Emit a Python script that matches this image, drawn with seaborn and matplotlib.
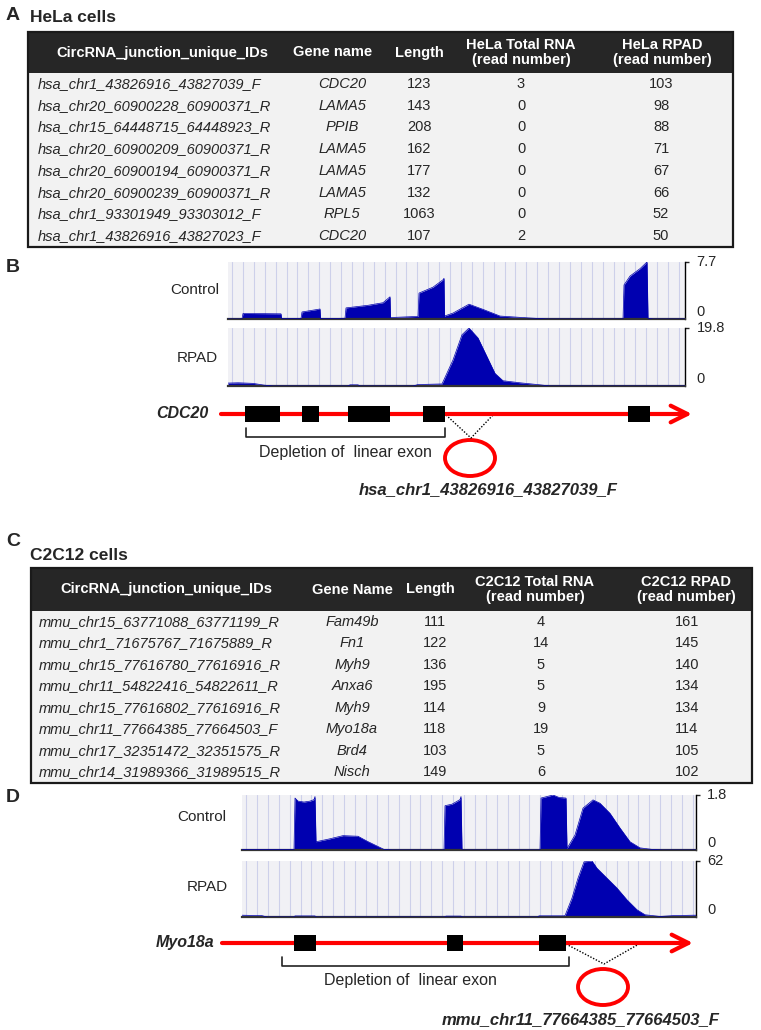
import numpy as np
import seaborn as sns
import matplotlib.pyplot as plt
from matplotlib.patches import Rectangle, Ellipse

sns.set_theme(style="white")
plt.rcParams['font.family'] = ['Liberation Sans', 'DejaVu Sans']

# ---------------- data ----------------
hela_ids = ["hsa_chr1_43826916_43827039_F", "hsa_chr20_60900228_60900371_R",
            "hsa_chr15_64448715_64448923_R", "hsa_chr20_60900209_60900371_R",
            "hsa_chr20_60900194_60900371_R", "hsa_chr20_60900239_60900371_R",
            "hsa_chr1_93301949_93303012_F", "hsa_chr1_43826916_43827023_F"]
hela_genes = ["CDC20", "LAMA5", "PPIB", "LAMA5", "LAMA5", "LAMA5", "RPL5", "CDC20"]
hela_length = [123, 143, 208, 162, 177, 132, 1063, 107]
hela_total = [3, 0, 0, 0, 0, 0, 0, 2]
hela_rpad = [103, 98, 88, 71, 67, 66, 52, 50]
hela_headers = ["CircRNA_junction_unique_IDs", "Gene name", "Length",
                "HeLa Total RNA\n(read number)", "HeLa RPAD\n(read number)"]

c2c12_ids = ["mmu_chr15_63771088_63771199_R", "mmu_chr1_71675767_71675889_R",
             "mmu_chr15_77616780_77616916_R", "mmu_chr11_54822416_54822611_R",
             "mmu_chr15_77616802_77616916_R", "mmu_chr11_77664385_77664503_F",
             "mmu_chr17_32351472_32351575_R", "mmu_chr14_31989366_31989515_R"]
c2c12_genes = ["Fam49b", "Fn1", "Myh9", "Anxa6", "Myh9", "Myo18a", "Brd4", "Nisch"]
c2c12_length = [111, 122, 136, 195, 114, 118, 103, 149]
c2c12_total = [4, 14, 5, 5, 9, 19, 5, 6]
c2c12_rpad = [161, 145, 140, 134, 134, 114, 105, 102]
c2c12_headers = ["CircRNA_junction_unique_IDs", "Gene Name", "Length",
                 "C2C12 Total RNA\n(read number)", "C2C12 RPAD\n(read number)"]

# coverage (position along window, signal)
cdc20_ctrl_pos = [0, 14, 15, 53, 53.5, 73, 74, 92, 92.5, 117, 118, 140, 155, 162, 162.5, 190, 191, 205,
                  215, 216, 216.5, 225, 241, 255, 272, 300, 320, 395, 396, 402, 412, 419, 420, 425, 457]
cdc20_ctrl_cov = [0, 0, 0.75, 0.7, 0.05, 0.05, 0.95, 1.35, 0.05, 0.1, 1.5, 1.85, 2.2, 3.0, 0.2, 0.35, 3.5, 4.3,
                  5.3, 5.5, 0.4, 0.8, 2.0, 1.3, 0.4, 0.15, 0, 0, 4.6, 5.8, 6.8, 7.7, 0.1, 0, 0]
cdc20_rpad_pos = [0, 10, 25, 36, 45, 120, 122, 130, 132, 185, 190, 214, 225, 234, 241, 250, 259, 267, 275,
                  292, 312, 322, 457]
cdc20_rpad_cov = [1.0, 1.1, 0.9, 0.3, 0, 0, 0.4, 0.4, 0, 0, 0.5, 0.7, 8.9, 17.5, 19.8, 16.4, 10.0, 4.3, 1.8,
                  1.1, 0.4, 0, 0]
cdc20_exons = [(17, 52), (74, 91), (120, 162), (195, 217), (400, 422)]

myo_ctrl_pos = [0, 52, 53, 56, 62, 68, 72, 73, 74, 87, 101, 116, 125, 135, 142, 150, 202, 203, 210, 218, 219,
                220, 298, 299, 305, 311, 317, 324, 325, 333, 341, 351, 358, 368, 378, 388, 398, 410, 420, 454]
myo_ctrl_cov = [0.02, 0.02, 1.7, 1.6, 1.57, 1.6, 1.65, 1.75, 0.27, 0.36, 0.47, 0.45, 0.29, 0.13, 0.02, 0,
                0, 1.45, 1.5, 1.65, 1.75, 0, 0, 1.7, 1.75, 1.8, 1.72, 1.7, 0.05, 0.49, 1.37, 1.64, 1.53,
                1.2, 0.72, 0.27, 0.07, 0.02, 0, 0]
myo_rpad_pos = [0, 20, 25, 52, 53, 73, 74, 203, 204, 219, 220, 296, 297, 322, 323, 330, 336, 342, 350, 355,
                365, 375, 385, 395, 403, 418, 431, 451, 454]
myo_rpad_cov = [2, 1.5, 0, 0, 1.2, 1.2, 0, 0, 1, 1, 0, 0, 1.3, 1.3, 1.5, 21, 43, 61, 62, 54, 43, 32, 19, 8,
                2.5, 0.6, 1.5, 2, 2]
myo_exons = [(52, 74), (205, 221), (297, 324)]

BLUE = '#0000b0'
W, H = 761, 1030
fig = plt.figure(figsize=(W / 100, H / 100), dpi=100)
bg = fig.add_axes([0, 0, 1, 1])
bg.set_xlim(0, W)
bg.set_ylim(H, 0)
bg.axis('off')


def px(x0, y0, x1, y1):
    return [x0 / W, 1 - y1 / H, (x1 - x0) / W, (y1 - y0) / H]


def draw_table(box, row_h, headers, hx, cols, cx, fs):
    left, right, top, head_bot = box
    bottom = head_bot + len(cols[0]) * row_h
    bg.add_patch(Rectangle((left, head_bot), right - left, bottom - head_bot, fc='#f2f2f2', ec='none'))
    bg.add_patch(Rectangle((left, top), right - left, head_bot - top, fc='#262626', ec='none'))
    bg.add_patch(Rectangle((left, top), right - left, bottom - top, fc='none', ec='#1a1a1a', lw=1.6))
    for h, x in zip(headers, hx):
        bg.text(x, (top + head_bot) / 2, h, color='white', ha='center', va='center',
                weight='bold', fontsize=fs, linespacing=1.1)
    for j, col in enumerate(cols):
        for i, v in enumerate(col):
            y = head_bot + (i + 0.5) * row_h
            bg.text(cx[j], y, str(v), ha='left' if j == 0 else 'center', va='center',
                    style='italic' if j < 2 else 'normal', fontsize=fs)


def track(rect, pos, cov, ymax, top_label, width):
    ax = fig.add_axes(px(*rect))
    ax.set_facecolor('#f1f1f5')
    for gx in np.arange(4, width, 10.9):
        ax.axvline(gx, color='#cdd0ea', lw=0.8, zorder=0)
    ax.fill_between(pos, cov, color=BLUE, lw=0, zorder=2)
    sns.lineplot(x=pos, y=cov, ax=ax, color=BLUE, lw=0.5, sort=False, estimator=None, zorder=3)
    ax.set_xlim(0, width)
    ax.set_ylim(0, ymax)
    ax.set_xticks([])
    ax.yaxis.tick_right()
    ax.set_yticks([ymax])
    ax.set_yticklabels([])
    ax.tick_params(axis='y', direction='out', length=3, width=1, right=True, left=False)
    ax.text(1.025, 1.0, top_label, transform=ax.transAxes, ha='left', va='center', fontsize=10.5)
    ax.text(1.025, 0.0, '0', transform=ax.transAxes, ha='left', va='bottom', fontsize=10.5)
    for s in ['top', 'left']:
        ax.spines[s].set_visible(False)
    ax.spines['bottom'].set_color('#333333')
    ax.spines['bottom'].set_linewidth(1.6)
    ax.spines['right'].set_color('black')
    ax.spines['right'].set_linewidth(1)
    ax.set_xlabel('')
    ax.set_ylabel('')
    return ax


def gene_model(rect, width, yline, line_x, exons, bracket, dots, circ):
    ax = fig.add_axes(px(*rect))
    ax.set_xlim(0, width)
    ax.set_ylim(rect[3], rect[1])
    ax.axis('off')
    ax.annotate('', xy=(line_x[1], yline), xytext=(line_x[0], yline), annotation_clip=False,
                arrowprops=dict(arrowstyle='->,head_length=1.0,head_width=0.5', color='#ff0000',
                                lw=3.0, shrinkA=0, shrinkB=0))
    for s, e in exons:
        ax.add_patch(Rectangle((s, yline - 8), e - s, 16, fc='black', ec='none', zorder=3))
    b0, b1, yt, yb = bracket
    ax.plot([b0, b0, b1, b1], [yt, yb, yb, yt], color='#222222', lw=1.2, clip_on=False)
    ax.plot(dots[0], dots[1], color='black', ls=(0, (1, 1.2)), lw=1, clip_on=False)
    ax.add_patch(Ellipse(circ, 50, 36, fill=False, ec='#ff0000', lw=2.8, clip_on=False))
    return ax


# ---------------- panel A ----------------
bg.text(6, 15, 'A', fontsize=14, weight='bold', va='center')
bg.text(30, 17, 'HeLa cells', fontsize=12.5, weight='bold', va='center')
draw_table((28, 733, 32, 73), 21.75, hela_headers, [162, 333, 419, 521, 662],
           [hela_ids, hela_genes, hela_length, hela_total, hela_rpad],
           [38, 342, 419, 521, 661], 10.5)

# ---------------- panel B ----------------
bg.text(6, 267, 'B', fontsize=14, weight='bold', va='center')
track((228, 262, 685, 319), cdc20_ctrl_pos, cdc20_ctrl_cov, 7.7, '7.7', 457)
track((228, 328, 685, 386), cdc20_rpad_pos, cdc20_rpad_cov, 19.8, '19.8', 457)
bg.text(219, 290, 'Control', fontsize=11, ha='right', va='center')
bg.text(218, 358, 'RPAD', fontsize=11, ha='right', va='center')
gene_model((228, 395, 685, 500), 457, 414, (-7, 464), cdc20_exons, (18, 217, 428, 437),
           ([218, 243, 265], [415, 438, 415]), (242, 458))
bg.text(208, 414, 'CDC20', fontsize=11.5, weight='bold', style='italic', ha='right', va='center')
bg.text(345, 452, 'Depletion of  linear exon', fontsize=11.5, ha='center', va='center')
bg.text(488, 490, 'hsa_chr1_43826916_43827039_F', fontsize=12, weight='bold', style='italic',
        ha='center', va='center')

# ---------------- panel C ----------------
bg.text(6, 541, 'C', fontsize=14, weight='bold', va='center')
bg.text(30, 555, 'C2C12 cells', fontsize=12.5, weight='bold', va='center')
draw_table((31, 752, 568, 611), 21.5, c2c12_headers, [166, 352, 430, 535, 686],
           [c2c12_ids, c2c12_genes, c2c12_length, c2c12_total, c2c12_rpad],
           [39, 352, 435, 541, 687], 10.5)

# ---------------- panel D ----------------
bg.text(6, 797, 'D', fontsize=14, weight='bold', va='center')
track((242, 795, 696, 850), myo_ctrl_pos, myo_ctrl_cov, 1.8, '1.8', 454)
track((242, 861, 696, 917), myo_rpad_pos, myo_rpad_cov, 62, '62', 454)
bg.text(226, 817, 'Control', fontsize=11, ha='right', va='center')
bg.text(228, 887, 'RPAD', fontsize=11, ha='right', va='center')
gene_model((242, 925, 696, 1010), 454, 943, (-20, 451), myo_exons, (40, 327, 957, 966),
           ([324, 362, 397], [944, 964, 944]), (361, 987))
bg.text(214, 943, 'Myo18a', fontsize=11.5, weight='bold', style='italic', ha='right', va='center')
bg.text(410, 981, 'Depletion of  linear exon', fontsize=11.5, ha='center', va='center')
bg.text(581, 1020, 'mmu_chr11_77664385_77664503_F', fontsize=12, weight='bold', style='italic',
        ha='center', va='center')

fig.savefig('out.png', dpi=100)
